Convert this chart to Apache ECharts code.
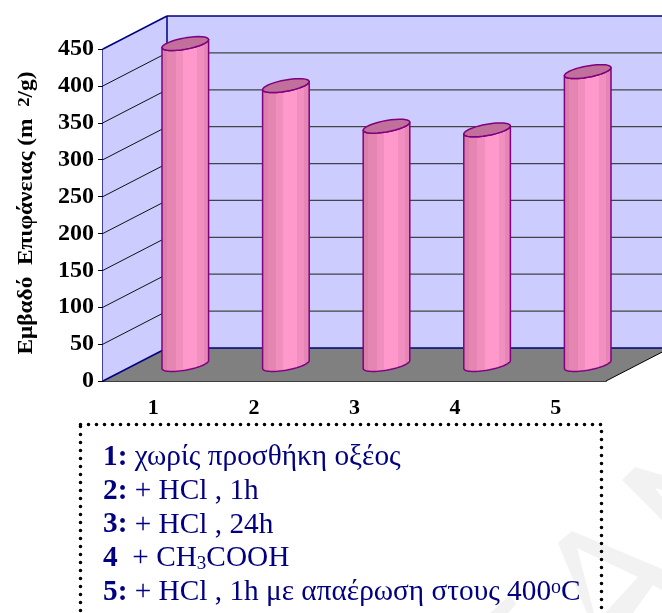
<!DOCTYPE html>
<html><head><meta charset="utf-8">
<style>html,body{margin:0;padding:0;background:#fff}#c{width:662px;height:613px}</style>
<script src="https://cdn.jsdelivr.net/npm/echarts@6/dist/echarts.min.js"></script>
</head><body><div id="c"></div>
<script>
const categories = ['1','2','3','4','5'];
const surfaceArea = [435, 378, 323, 318, 397];
const yTicks = [50,100,150,200,250,300,350,400];
const axisTitle = '{b|Εμβαδό  Επιφάνειας (m  }{s|2}{b|/g)}';
const legendLines = [
  '{k|1:} {t|χωρίς προσθήκη οξέος}',
  '{k|2:} {t|+ HCl , 1h}',
  '{k|3:} {t|+ HCl , 24h}',
  '{k|4}  {t|+ CH}{sub|3}{t|COOH}',
  '{k|5:} {t|+ HCl , 1h με απαέρωση στους 400}{sup|o}{t|C}'
];
const FONT = '"Liberation Serif","Times New Roman",serif';
const DX = 64, DY = -33, NAVY = '#000080';

const chart = echarts.init(document.getElementById('c'), null, {renderer:'canvas'});
const YMAX = 450, N = categories.length;
const line = (x1,y1,x2,y2,stroke,w) => ({type:'line',shape:{x1,y1,x2,y2},style:{stroke,lineWidth:w}});

function renderWalls(params, api){
  const x0 = api.coord([0,0])[0] - (api.coord([1,0])[0]-api.coord([0,0])[0])/2;
  const x1 = x0 + (api.coord([1,0])[0]-api.coord([0,0])[0])*N;
  const y0 = api.coord([0,0])[1], yt = api.coord([0,YMAX])[1];
  return {type:'group',children:[
    {type:'polygon',shape:{points:[[x0,y0],[x0,yt],[x0+DX,yt+DY],[x0+DX,y0+DY]]},style:{fill:'#CCCCFF'}},
    {type:'polygon',shape:{points:[[x0+DX,y0+DY],[x0+DX,yt+DY],[x1+DX,yt+DY],[x1+DX,y0+DY]]},style:{fill:'#CCCCFF'}},
    {type:'polygon',shape:{points:[[x0,y0],[x0+DX,y0+DY],[x1+DX,y0+DY],[x1,y0]]},style:{fill:'#808080'}},
    line(x0,yt,x0+DX,yt+DY,NAVY,1.5),
    line(x0+DX,yt+DY,x1+DX,yt+DY,NAVY,1.5),
    line(x0+DX,yt+DY,x0+DX,y0+DY,NAVY,1.5),
    line(x0,y0,x0+DX,y0+DY,NAVY,1.5),
    line(x0+DX,y0+DY,x1+DX,y0+DY,NAVY,1.5),
    line(x1,y0,x1+DX,y0+DY,'#000',1)
  ]};
}
function renderGrid(params, api){
  const step = api.coord([1,0])[0]-api.coord([0,0])[0];
  const x0 = api.coord([0,0])[0]-step/2, x1 = x0+step*N;
  const y = api.coord([0,api.value(0)])[1];
  return {type:'group',children:[
    line(x0,y,x0+DX,y+DY,'#111',1),
    line(x0+DX,y+DY,x1+DX,y+DY,'#444',1.3)
  ]};
}
function ellipsePts(cx,cy,a,b,s,from,to){
  const pts=[];
  for(let i=0;i<=32;i++){
    const t = from+(to-from)*i/32;
    pts.push([cx+a*Math.cos(t), cy-s*Math.cos(t)+b*Math.sin(t)]);
  }
  return pts;
}
function renderBar(params, api){
  const top = api.coord([api.value(0),api.value(1)]);
  const bot = api.coord([api.value(0),0]);
  const cx = top[0]+DX/2, cyT = top[1]+DY/2, cyB = bot[1]+DY/2;
  const a=23.3,b=5.7,s=4;
  const lower = ellipsePts(cx,cyB,a,b,s,Math.PI,0);
  const body = lower.concat(ellipsePts(cx,cyT,a,b,s,0,Math.PI));
  const col = (o,c)=>({offset:o,color:c});
  const grad = {type:'linear',x:0,y:0,x2:1,y2:0,colorStops:[
    col(0,'#DC7EAA'),col(.12,'#DC7EAA'),col(.12,'#E485B2'),col(.3,'#E485B2'),col(.3,'#F08FBE'),col(.45,'#F08FBE'),
    col(.45,'#FF99CC'),col(.74,'#FF99CC'),col(.74,'#F190C0'),col(.88,'#F190C0'),col(.88,'#E686B5'),col(1,'#E686B5')]};
  return {type:'group',children:[
    {type:'polygon',shape:{points:body},style:{fill:grad,stroke:'#800080',lineWidth:1.5,lineJoin:'round'}},
    {type:'polygon',shape:{points:ellipsePts(cx,cyT,a,b,s,0,2*Math.PI)},style:{fill:'#C0709A',stroke:'#800080',lineWidth:1.5,lineJoin:'round'}}
  ]};
}

const watermarkFill = [
  [[558,543],[572,531],[662,569],[662,590],[653,585],[633,613],[587,613]],
  [[622,480],[635,467],[662,475],[662,490],[655,488],[662,497],[662,520]],
  [[490,613],[510,595],[516,604],[508,613]]
];
const watermarkHole = [[577,548],[638,577],[605,613],[594,613]];
const legendGraphics = legendLines.map((txt,i)=>({
  type:'text', x:103, y:443+i*33.7, z:5,
  style:{text:txt, fontFamily:FONT, fontSize:29.3, fill:NAVY,
    rich:{
      k:{fontFamily:FONT,fontSize:29.3,fontWeight:'bold',fill:NAVY},
      t:{fontFamily:FONT,fontSize:29.3,fill:NAVY},
      sub:{fontFamily:FONT,fontSize:19,fill:NAVY,verticalAlign:'bottom',lineHeight:10},
      sup:{fontFamily:FONT,fontSize:20,fill:NAVY,verticalAlign:'top',lineHeight:8}
    }}
}));

chart.setOption({
  animation:false,
  backgroundColor:'#fff',
  grid:{left:103,right:56,top:49,bottom:232,containLabel:false},
  xAxis:{type:'category',data:categories,
    axisLine:{lineStyle:{color:'#000',width:1.5}},
    axisTick:{length:5,lineStyle:{color:'#555',width:1}},
    axisLabel:{margin:16,color:'#000',fontFamily:FONT,fontWeight:'bold',fontSize:22}},
  yAxis:{type:'value',min:0,max:YMAX,interval:50,
    axisLine:{show:true,lineStyle:{color:NAVY,width:1.5}},
    axisTick:{show:true,length:5,lineStyle:{color:'#000',width:1}},
    splitLine:{show:false},
    axisLabel:{margin:9,padding:[3,0,0,0],color:'#000',fontFamily:FONT,fontWeight:'bold',fontSize:24}},
  graphic:[
    ...watermarkFill.map(p=>({type:'polygon',shape:{points:p},style:{fill:'#F2F2F2'},z:-2,silent:true})),
    {type:'polygon',shape:{points:watermarkHole},style:{fill:'#fff'},z:-1,silent:true},
    {type:'rect',shape:{x:80.5,y:424.5,width:521,height:200},z:4,
      style:{fill:'none',stroke:'#000',lineWidth:3.6,lineDash:[0,8],lineCap:'round'}},
    {type:'text',x:27,y:213,rotation:Math.PI/2,scaleX:1.11,z:5,
      style:{text:axisTitle,align:'center',verticalAlign:'middle',fontFamily:FONT,fontSize:21,fontWeight:'bold',fill:'#000',
        rich:{
          b:{fontFamily:FONT,fontWeight:'bold',fontSize:21,fill:'#000'},
          s:{fontFamily:FONT,fontWeight:'bold',fontSize:17,fill:'#000',verticalAlign:'top',lineHeight:6}
        }}},
    ...legendGraphics
  ],
  series:[
    {type:'custom',clip:false,silent:true,z:1,renderItem:renderWalls,data:[[0]],encode:{x:0},coordinateSystem:'cartesian2d'},
    {type:'custom',clip:false,silent:true,z:2,renderItem:renderGrid,data:yTicks.map(v=>[v]),coordinateSystem:'cartesian2d',encode:{y:0}},
    {type:'custom',clip:false,silent:true,z:3,renderItem:renderBar,data:surfaceArea.map((v,i)=>[i,v]),encode:{x:0,y:1},coordinateSystem:'cartesian2d'}
  ]
});
</script></body></html>
